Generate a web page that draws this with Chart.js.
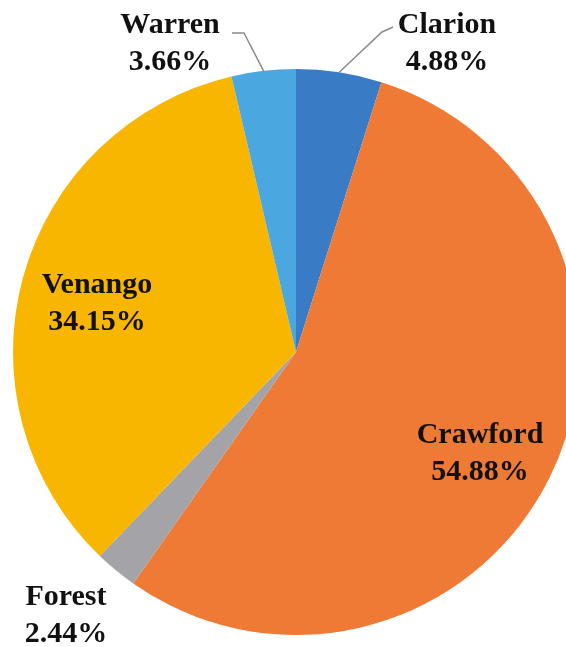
<!DOCTYPE html>
<html>
<head>
<meta charset="utf-8">
<script src="https://cdn.jsdelivr.net/npm/chart.js@4/dist/chart.umd.min.js"></script>
<style>
  html, body { margin: 0; padding: 0; background: #fff; overflow: hidden; width: 566px; height: 647px; }
  #wrap { position: absolute; left: 0; top: 0; }
</style>
</head>
<body>
<div id="wrap"><canvas id="pieChart" width="590" height="647"></canvas></div>
<script>
const counties = ["Clarion", "Crawford", "Forest", "Venango", "Warren"];
const shares = [4.88, 54.88, 2.44, 34.15, 3.66];
const sliceColors = ["#3a7bc6", "#ee7a36", "#a3a3a8", "#f8b600", "#4ba7df"];

// where each label sits (text centre, first line baseline) and whether it gets a leader line
const labelSpots = {
    "Clarion": {x: 447, y: 33, leader: [[393, 27], [382, 32]]},
    "Crawford": {x: 480, y: 443},
    "Forest": {x: 66, y: 605},
    "Venango": {x: 97, y: 293},
    "Warren": {x: 170, y: 33, leader: [[232, 33], [244, 33]]}
};

const pieLabels = {
    id: "pieLabels",
    afterDatasetsDraw(chart) {
        const ctx = chart.ctx;
        const meta = chart.getDatasetMeta(0);
        ctx.save();
        meta.data.forEach(function(arc, i) {
            const name = counties[i];
            const spot = labelSpots[name];
            if (spot.leader) {
                const p = arc.getProps(["x", "y", "startAngle", "endAngle", "outerRadius"], true);
                const mid = (p.startAngle + p.endAngle) / 2;
                ctx.strokeStyle = "#8a8a8a";
                ctx.lineWidth = 1.5;
                ctx.beginPath();
                ctx.moveTo(spot.leader[0][0], spot.leader[0][1]);
                ctx.lineTo(spot.leader[1][0], spot.leader[1][1]);
                ctx.lineTo(p.x + Math.cos(mid) * p.outerRadius, p.y + Math.sin(mid) * p.outerRadius);
                ctx.stroke();
            }
            ctx.fillStyle = "#111";
            ctx.font = "bold 30px 'Liberation Serif', 'Times New Roman', serif";
            ctx.textAlign = "center";
            ctx.textBaseline = "alphabetic";
            ctx.fillText(name, spot.x, spot.y);
            ctx.fillText(shares[i].toFixed(2) + "%", spot.x, spot.y + 37);
        });
        ctx.restore();
    }
};

new Chart("pieChart", {
    type: "pie",
    data: {
        labels: counties,
        datasets: [{
            data: shares,
            backgroundColor: sliceColors,
            borderWidth: 0
        }]
    },
    options: {
        responsive: false,
        animation: false,
        layout: {
            padding: {top: 69, bottom: 12, left: 13, right: 11}
        },
        plugins: {
            legend: {display: false},
            tooltip: {enabled: false}
        }
    },
    plugins: [pieLabels]
});
</script>
</body>
</html>
